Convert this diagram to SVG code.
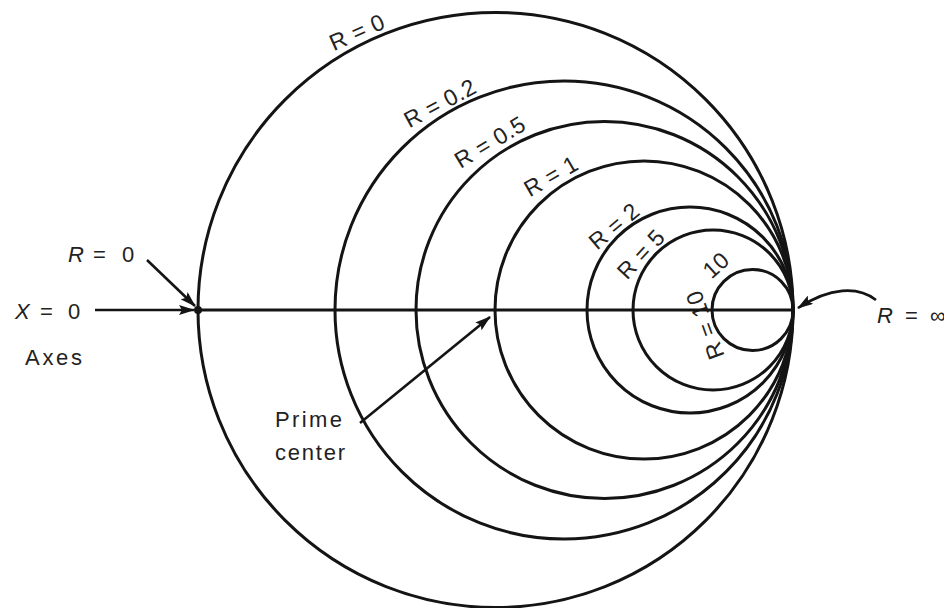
<svg xmlns="http://www.w3.org/2000/svg" width="944" height="608" viewBox="0 0 944 608">
<defs>
<style>
.c{fill:none;stroke:#141414;stroke-width:3}
.ln{fill:none;stroke:#141414;stroke-width:2.6}
.t{font-family:"Liberation Sans",Arial,sans-serif;font-size:22px;fill:#222}
.lab{font-family:"Liberation Sans",Arial,sans-serif;font-size:23px;letter-spacing:0.5px;fill:#222;text-anchor:middle;dominant-baseline:central}
.i{font-style:italic}
</style>
<marker id="ah" markerUnits="userSpaceOnUse" markerWidth="16" markerHeight="10" refX="15" refY="5" orient="auto">
<path d="M0,0 L16,5 L0,10 L3,5 z" fill="#141414"/>
</marker>
</defs>
<rect width="944" height="608" fill="#fff"/>
<g id="circle-r0"><circle class="c" cx="495.5" cy="310" r="297.5"/><text class="lab" transform="translate(357,32) rotate(-24)">R = 0</text></g>
<g id="circle-r02"><circle class="c" cx="564" cy="310" r="229"/><text class="lab" transform="translate(440,103) rotate(-28)">R = 0.2</text></g>
<g id="circle-r05"><circle class="c" cx="604.5" cy="310" r="188.5"/><text class="lab" transform="translate(490,142) rotate(-31)">R = 0.5</text></g>
<g id="circle-r1"><circle class="c" cx="644" cy="310" r="149"/><text class="lab" transform="translate(551,176) rotate(-30)">R = 1</text></g>
<g id="circle-r2"><circle class="c" cx="690" cy="310" r="103"/><text class="lab" transform="translate(614,226) rotate(-40)">R = 2</text></g>
<g id="circle-r5"><circle class="c" cx="713" cy="310" r="80"/><text class="lab" transform="translate(641,254) rotate(-47)">R = 5</text></g>
<g id="circle-r10"><circle class="c" cx="752.5" cy="310" r="40.5"/><text class="lab" transform="translate(716,265) rotate(-42)">10</text><text class="lab" transform="translate(705,325) rotate(-110)">R = 10</text></g>
<g id="axis"><line class="c" x1="198" y1="310" x2="793" y2="310"/><circle cx="198" cy="310" r="4" fill="#141414"/></g>
<g id="label-x0"><text class="t" y="319"><tspan class="i" x="15">X</tspan><tspan x="40">=</tspan><tspan x="68">0</tspan></text></g>
<g id="label-axes"><text class="t" x="25" y="365" textLength="57">Axes</text></g>
<g id="label-r0"><text class="t" y="262"><tspan class="i" x="68">R</tspan><tspan x="93">=</tspan><tspan x="122">0</tspan></text></g>
<g id="label-rinf"><text class="t" y="323"><tspan class="i" x="877">R</tspan><tspan x="905">=</tspan><tspan x="930">∞</tspan></text></g>
<g id="label-prime"><text class="t" x="275" y="427" textLength="67">Prime</text><text class="t" x="275" y="460" textLength="70">center</text></g>
<g id="connectors">
<line class="ln" x1="95" y1="310" x2="194" y2="310" marker-end="url(#ah)"/>
<line class="ln" x1="147" y1="260" x2="195" y2="306" marker-end="url(#ah)"/>
<line class="ln" x1="360" y1="423" x2="490" y2="317" marker-end="url(#ah)"/>
<path class="ln" d="M876,300 C858,286 830,287 798,308" marker-end="url(#ah)"/>
</g>
</svg>
